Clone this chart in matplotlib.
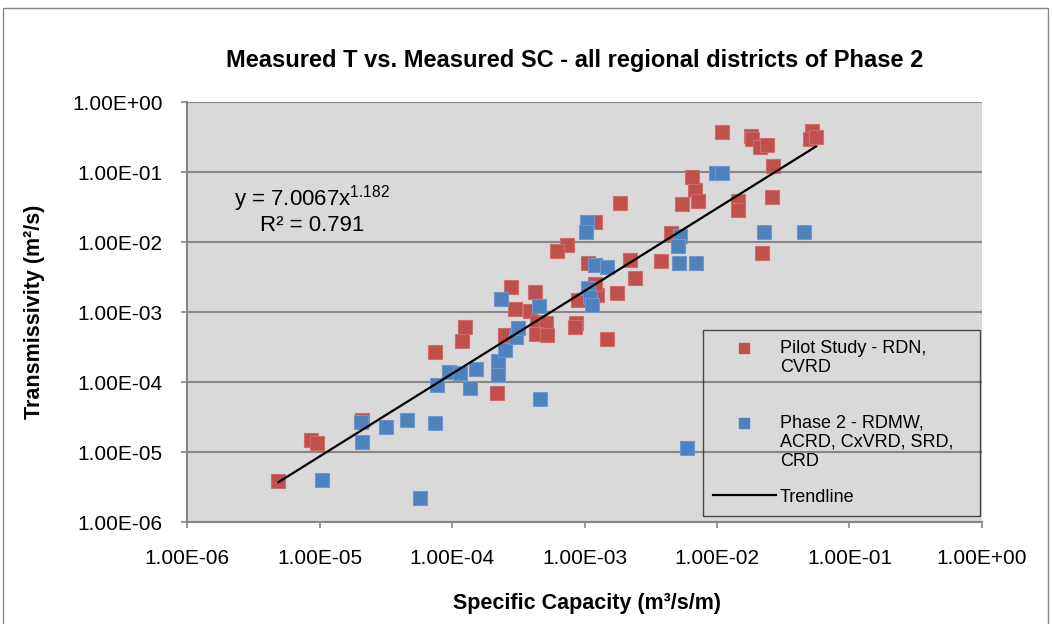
import numpy as np
import matplotlib
matplotlib.use("Agg")
import matplotlib.pyplot as plt
from matplotlib.lines import Line2D
from matplotlib.patches import Rectangle
from matplotlib.ticker import FuncFormatter, NullLocator
from matplotlib.legend_handler import HandlerLine2D

plt.rcParams['font.family'] = ['Liberation Sans', 'DejaVu Sans']
plt.rcParams['mathtext.default'] = 'regular'

# Pilot Study - RDN, CVRD  (specific capacity m3/s/m, transmissivity m2/s)
pilot_sc = [4.9e-6, 8.7e-6, 9.5e-6, 2.1e-5, 7.5e-5, 1.2e-4, 1.25e-4, 2.2e-4, 2.5e-4, 2.8e-4,
            4.2e-4, 3.0e-4, 3.9e-4, 4.4e-4, 5.1e-4, 4.3e-4, 5.2e-4, 8.7e-4, 8.5e-4, 9.0e-4,
            1.24e-3, 1.2e-3, 1.75e-3, 1.47e-3, 2.2e-3, 2.4e-3, 1.07e-3, 7.4e-4, 6.2e-4, 1.2e-3,
            1.85e-3, 3.8e-3, 4.5e-3, 5.4e-3, 6.8e-3, 7.2e-3, 6.5e-3, 1.1e-2, 1.79e-2, 1.84e-2,
            2.11e-2, 2.37e-2, 5.2e-2, 5.0e-2, 5.56e-2, 2.66e-2, 1.43e-2, 1.43e-2, 2.58e-2, 2.2e-2]
pilot_t = [3.8e-6, 1.5e-5, 1.33e-5, 2.9e-5, 2.7e-4, 3.8e-4, 6.2e-4, 6.9e-5, 4.7e-4, 2.3e-3,
           1.9e-3, 1.1e-3, 1.03e-3, 7.2e-4, 7.0e-4, 4.85e-4, 4.7e-4, 6.9e-4, 6.2e-4, 1.5e-3,
           1.75e-3, 2.5e-3, 1.85e-3, 4.1e-4, 5.5e-3, 3.1e-3, 5.0e-3, 9.1e-3, 7.4e-3, 1.9e-2,
           3.6e-2, 5.35e-3, 1.34e-2, 3.5e-2, 5.5e-2, 3.85e-2, 8.6e-2, 0.376, 0.327, 0.296,
           0.224, 0.243, 0.389, 0.293, 0.321, 0.122, 3.9e-2, 2.86e-2, 4.4e-2, 6.9e-3]

# Phase 2 - RDMW, ACRD, CxVRD, SRD, CRD
phase2_sc = [1.05e-5, 2.05e-5, 2.1e-5, 3.16e-5, 4.55e-5, 5.7e-5, 7.5e-5, 7.7e-5, 9.5e-5, 1.15e-4,
             1.51e-4, 1.37e-4, 2.23e-4, 2.23e-4, 2.5e-4, 3.04e-4, 3.16e-4, 2.33e-4, 4.54e-4, 4.6e-4,
             1.07e-3, 1.1e-3, 1.13e-3, 1.04e-3, 1.02e-3, 1.2e-3, 1.47e-3, 5.26e-3, 5.1e-3, 5.16e-3,
             7.0e-3, 9.8e-3, 1.09e-2, 2.28e-2, 4.56e-2, 5.9e-3]
phase2_t = [4.0e-6, 2.7e-5, 1.4e-5, 2.25e-5, 2.86e-5, 2.2e-6, 2.57e-5, 9.2e-5, 1.4e-4, 1.36e-4,
            1.52e-4, 8.1e-5, 1.26e-4, 2.0e-4, 2.9e-4, 4.4e-4, 5.85e-4, 1.52e-3, 1.22e-3, 5.7e-5,
            2.18e-3, 1.64e-3, 1.26e-3, 1.95e-2, 1.4e-2, 4.7e-3, 4.35e-3, 1.22e-2, 8.8e-3, 5.06e-3,
            4.96e-3, 9.8e-2, 9.8e-2, 1.4e-2, 1.4e-2, 1.13e-5]

# power-law trendline shown on the chart
coef_a = 7.0067
coef_b = 1.182
r_squared = 0.791

red = '#C0504D'
blue = '#4F81BD'
grid_gray = '#868686'

W, H = 1052, 624
fig = plt.figure(figsize=(W / 100, H / 100), dpi=100)
ax = fig.add_axes([187 / W, 1 - 522 / H, 795 / W, 420 / H])
ax.set_facecolor('#D9D9D9')

ax.plot(pilot_sc, pilot_t, ls='none', marker='s', ms=10.3, mfc=red, mec='#CD6E6B', mew=0.8, zorder=3)
ax.plot(phase2_sc, phase2_t, ls='none', marker='s', ms=10.3, mfc=blue, mec='#6F97CB', mew=0.8, zorder=4)

all_sc = np.array(pilot_sc + phase2_sc)
xs = np.logspace(np.log10(all_sc.min()), np.log10(all_sc.max()), 50)
ax.plot(xs, coef_a * xs ** coef_b, color='black', lw=1.6, zorder=5)

ax.set_xscale('log')
ax.set_yscale('log')
ax.set_xlim(1e-6, 1)
ax.set_ylim(1e-6, 1)
ax.set_xticks([10.0 ** k for k in range(-6, 1)])
ax.set_yticks([10.0 ** k for k in range(-6, 1)])
ax.xaxis.set_minor_locator(NullLocator())
ax.yaxis.set_minor_locator(NullLocator())
fmt = FuncFormatter(lambda v, p: f"{v:.2E}")
ax.xaxis.set_major_formatter(fmt)
ax.yaxis.set_major_formatter(fmt)
ax.tick_params(axis='x', length=4.5, width=1.2, color=grid_gray, pad=15, labelsize=15)
ax.tick_params(axis='y', length=4.5, width=1.2, color=grid_gray, pad=13, labelsize=15)

for s in ['top', 'right']:
    ax.spines[s].set_visible(False)
for s in ['left', 'bottom']:
    ax.spines[s].set_color(grid_gray)
    ax.spines[s].set_linewidth(1.5)
ax.yaxis.grid(True, color=grid_gray, lw=1.5)
ax.set_axisbelow(True)

ax.text(0.157, 0.771, f"y = {coef_a}x$^{{{coef_b}}}$", transform=ax.transAxes,
        ha='center', va='center', fontsize=16)
ax.text(0.157, 0.707, f"R² = {r_squared}", transform=ax.transAxes,
        ha='center', va='center', fontsize=16)


class ShiftHandler(HandlerLine2D):
    # moves the legend marker up so that it sits beside the first text line
    def __init__(self, shift=0.0, **kw):
        super().__init__(**kw)
        self.shift = shift

    def create_artists(self, legend, orig_handle, xdescent, ydescent, width, height, fontsize, trans):
        arts = super().create_artists(legend, orig_handle, xdescent, ydescent, width, height, fontsize, trans)
        for a in arts:
            a.set_ydata(np.asarray(a.get_ydata(), dtype=float) + self.shift * fontsize)
        return arts


h_pilot = Line2D([], [], ls='none', marker='s', ms=7, mfc=red, mec=red)
h_phase = Line2D([], [], ls='none', marker='s', ms=7, mfc=blue, mec=blue)
h_trend = Line2D([], [], color='black', lw=1.6)
labels = ["Pilot Study - RDN,\nCVRD\n", "Phase 2 - RDMW,\nACRD, CxVRD, SRD,\nCRD", "Trendline"]
leg = ax.legend([h_pilot, h_phase, h_trend], labels,
                loc='upper left', bbox_to_anchor=(0.649, 0.03, 0.348, 0.428), mode='expand',
                fontsize=13, frameon=True, fancybox=False, edgecolor='#222222', facecolor='none',
                framealpha=None, borderpad=0.55, handlelength=3.5, handletextpad=0.2,
                labelspacing=1.02, borderaxespad=0,
                handler_map={h_pilot: ShiftHandler(1.1), h_phase: ShiftHandler(1.1)})
leg.get_frame().set_linewidth(1.0)
leg.set_zorder(6)

fig.text(575 / W, 1 - 60 / H, "Measured T vs. Measured SC - all regional districts of Phase 2",
         ha='center', va='center', fontsize=17, fontweight='bold')
fig.text(587 / W, 1 - 603 / H, "Specific Capacity (m³/s/m)", ha='center', va='center',
         fontsize=15.5, fontweight='bold')
fig.text(35 / W, 1 - 312 / H, "Transmissivity (m²/s)", ha='center', va='center',
         rotation=90, fontsize=15.5, fontweight='bold')

# chart outer border
fig.patches.append(Rectangle((3 / W, -0.05), 1045 / W, 1.05 - 8 / H, transform=fig.transFigure,
                             fill=False, edgecolor=grid_gray, lw=1.0))

fig.savefig('out.png', dpi=100)
